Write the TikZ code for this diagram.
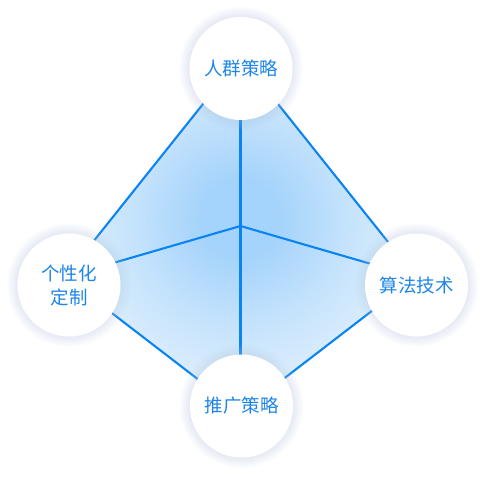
\documentclass[tikz,border=0pt]{standalone}
\usepackage{fontspec}
\newfontfamily\cjk{Noto Sans CJK SC}
\definecolor{lineblue}{HTML}{0A84F0}
\definecolor{textblue}{HTML}{1E86E8}
\definecolor{fillin}{HTML}{A4D3FB}
\definecolor{fillout}{HTML}{E5F2FD}
\definecolor{glow}{HTML}{B9CDE6}
\pgfdeclareradialshading{centreglow}{\pgfpoint{0bp}{0bp}}{%
  color(0bp)=(fillin); color(5bp)=(fillin);
  color(14bp)=(fillin!50!fillout); color(25bp)=(fillout); color(50bp)=(fillout)}
\tikzset{
  conn/.style={draw=lineblue, line width=2.1pt, line join=round},
  bubble/.style={circle, fill=white, minimum size=103pt, inner sep=0pt,
    text=textblue, align=center, font=\cjk\fontsize{18.5}{24}\selectfont},
}
\begin{document}
\begin{tikzpicture}[x=1pt,y=-1pt]
\useasboundingbox (0,0) rectangle (486,476);
\fill[white] (0,0) rectangle (486,476);
\coordinate (c) at (240.5,226);
\coordinate (vt) at (240.5,57);
\coordinate (vl) at (65,277);
\coordinate (vb) at (240.5,412);
\coordinate (vr) at (416,277);
\begin{scope}
  \clip (vt)--(vl)--(vb)--(vr)--cycle;
  \fill[fillout] (vt)--(vl)--(vb)--(vr)--cycle;
  \shade[shading=centreglow] (240,218) circle (190);
\end{scope}
\draw[conn] (vt)--(vl)--(vb)--(vr)--cycle;
\draw[conn] (c)--(vt);
\draw[conn] (c)--(vl);
\draw[conn] (c)--(vb);
\draw[conn] (c)--(vr);
\foreach \p in {(241,68.5),(69,285),(416.5,285),(241.5,406)}{
  \foreach \r in {52,53,...,62}{
    \fill[glow, opacity=0.03] \p circle (\r);
  }
}
\node[bubble] (top) at (241,68.5) {人群策略};
\node[bubble] (left) at (69,285) {个性化\\定制};
\node[bubble] (right) at (416.5,285) {算法技术};
\node[bubble] (bottom) at (241.5,406) {推广策略};
\end{tikzpicture}
\end{document}
